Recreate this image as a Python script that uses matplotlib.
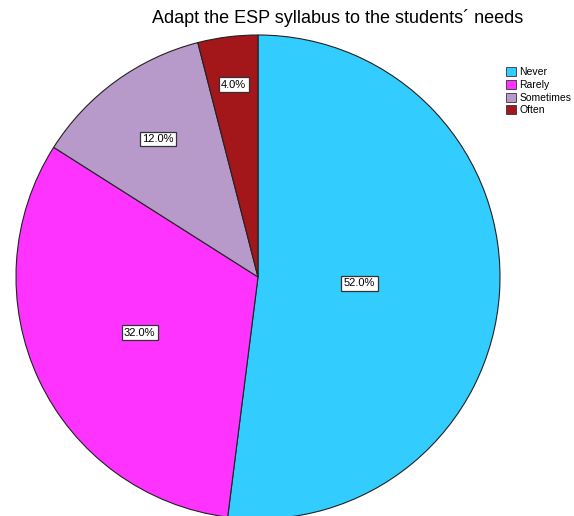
import matplotlib
matplotlib.use("Agg")
import matplotlib.pyplot as plt
import numpy as np
from matplotlib.patches import Patch

categories = ["Never", "Rarely", "Sometimes", "Often"]
values = [52.0, 32.0, 12.0, 4.0]
colors = ["#33CCFF", "#FF33FF", "#B79AC9", "#A3161A"]
label_r = [0.42, 0.54, 0.705, 0.80]

plt.rcParams['font.family'] = ['Liberation Sans', 'DejaVu Sans']

fig = plt.figure(figsize=(5.74, 5.16), dpi=100)
W, H = 574, 516
cx, cy, R = 258, 277, 242
ax = fig.add_axes([(cx - R) / W, (H - cy - R) / H, 2 * R / W, 2 * R / H])

wedges, _ = ax.pie(values, colors=colors, startangle=90, counterclock=False,
                   radius=1.0, center=(0, 0), frame=False,
                   wedgeprops=dict(edgecolor='#222222', linewidth=0.8))
ax.set_xlim(-1, 1)
ax.set_ylim(-1, 1)
ax.set_aspect('auto')
ax.axis('off')

total = sum(values)
cum = 0
for v, r in zip(values, label_r):
    mid = 90 - (cum + v / 2) / total * 360
    cum += v
    a = np.deg2rad(mid)
    ax.text(r * np.cos(a), r * np.sin(a), f"{v:.1f}%", ha='center', va='center',
            fontsize=8,
            bbox=dict(boxstyle='square,pad=0.22', fc='white', ec='#333333', lw=0.9))

fig.text(338 / W, 1 - 18 / H, "Adapt the ESP syllabus to the students\u00b4 needs",
         ha='center', va='center', fontsize=13)

handles = [Patch(facecolor=c, edgecolor='#333333', linewidth=0.6) for c in colors]
fig.legend(handles, categories, loc='upper left', bbox_to_anchor=(499 / W, 1 - 60 / H),
           frameon=False, fontsize=7.5, handlelength=0.95, handleheight=0.95,
           handletextpad=0.3, labelspacing=0.25, borderpad=0.2)

fig.savefig("out.png", dpi=100)
